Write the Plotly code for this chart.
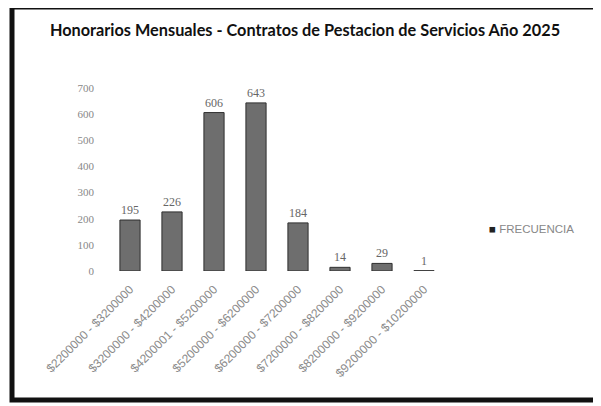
import plotly.graph_objects as go

categories = ["$2200000 - $3200000", "$3200000 - $4200000", "$4200001 - $5200000",
              "$5200000 - $6200000", "$6200000 - $7200000", "$7200000 - $8200000",
              "$8200000 - $9200000", "$9200000 - $10200000"]
frecuencia = [195, 226, 606, 643, 184, 14, 29, 1]
y_ticks = [0, 100, 200, 300, 400, 500, 600, 700]

O = 8  # page body margin offset
W, H = 601 - O, 406 - O
L, R, T, B = 109 - O, 445 - O, 88 - O, 271 - O

def px(x):
    return (x - O - L) / (R - L)

def py(y):
    return (B - (y - O)) / (B - T)

fig = go.Figure()
fig.add_trace(go.Bar(
    x=categories, y=frecuencia, name="FRECUENCIA",
    marker=dict(color="#6e6e6e", line=dict(color="#2e2e2e", width=1)),
    text=[str(v) for v in frecuencia], textposition="outside",
    textfont=dict(family="Liberation Serif", size=12, color="#666666"),
    cliponaxis=False, width=0.48, showlegend=False,
))

shapes = [
    dict(type="rect", xref="paper", yref="paper",
         x0=px(12), x1=px(597), y0=py(400), y1=py(7),
         line=dict(color="#111111", width=5), layer="below"),
]

annotations = [
    dict(xref="paper", yref="paper", x=px(487), y=py(229), xanchor="left", yanchor="middle",
         showarrow=False,
         text="<span style='color:#222222'>■</span> FRECUENCIA",
         font=dict(family="Liberation Sans", size=11.5, color="#888888")),
]

fig.update_layout(
    width=W, height=H,
    margin=dict(l=L, r=W - R, t=T, b=H - B),
    paper_bgcolor="white", plot_bgcolor="white",
    title=dict(text="<b>Honorarios Mensuales - Contratos de Pestacion de Servicios Año 2025</b>",
               xref="container", x=(305 - O) / W, xanchor="center",
               yref="container", y=1 - (30 - O) / H, yanchor="middle",
               font=dict(family="Lato", size=16.3, color="#111111")),
    xaxis=dict(tickangle=-45, tickfont=dict(family="Liberation Sans", size=12, color="#8a8a8a"),
               showline=False, showgrid=False, ticks="", range=[-0.5, 7.5],
               ticklabelstandoff=8),
    yaxis=dict(range=[0, 700], tickvals=y_ticks, showgrid=False, showline=False,
               zeroline=False, ticks="", ticklabelstandoff=14,
               tickfont=dict(family="Liberation Serif", size=11, color="#888888")),
    showlegend=False,
    shapes=shapes,
    annotations=annotations,
)

fig.write_html("out.html")
